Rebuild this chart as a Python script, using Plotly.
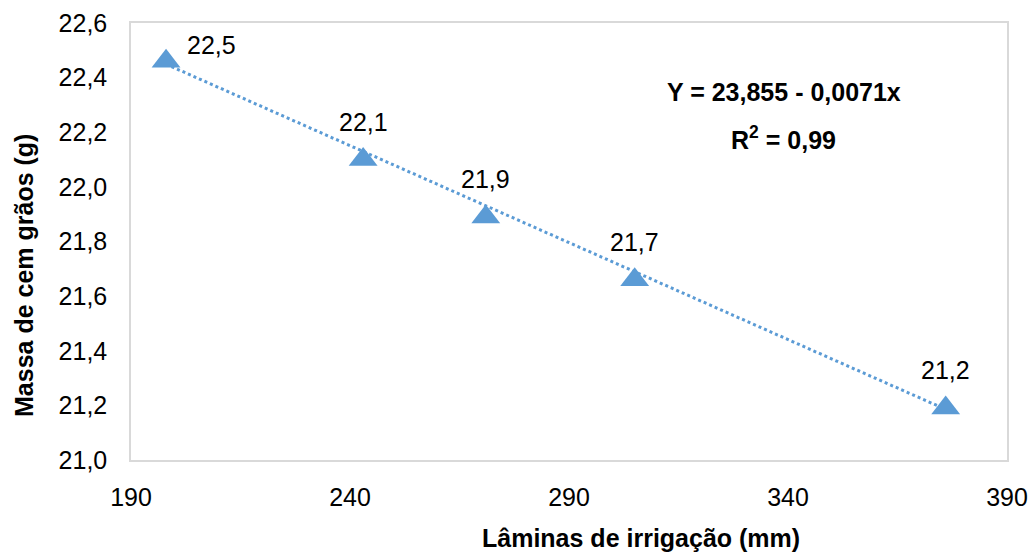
import plotly.graph_objects as go

# Irrigation depth (mm) and hundred-grain mass (g)
laminas = [198, 243, 271, 305, 376]
massa = [22.46, 22.10, 21.89, 21.66, 21.19]

# Fitted linear model: Y = a + b*x
intercepto = 23.855
inclinacao = -0.0071
r2 = 0.99

x_ticks = [190, 240, 290, 340, 390]
y_ticks = [21.0, 21.2, 21.4, 21.6, 21.8, 22.0, 22.2, 22.4, 22.6]

azul = "#5b9bd5"
fonte = "Liberation Sans, Arial, sans-serif"

W, H = 1033, 554
ml, mr, mt, mb = 131, 26, 23, 94
pw, ph = W - ml - mr, H - mt - mb


def px_to_paper(px, py):
    return (px - ml) / pw, 1 - (py - mt) / ph


fig = go.Figure()

# Trend line over the observed range
x_tend = [min(laminas), max(laminas)]
y_tend = [intercepto + inclinacao * v for v in x_tend]
fig.add_trace(go.Scatter(
    x=x_tend, y=y_tend, mode="lines",
    line=dict(color=azul, width=3, dash="dot"),
    hoverinfo="skip", showlegend=False,
))

fig.add_trace(go.Scatter(
    x=laminas, y=massa, mode="markers",
    marker=dict(symbol="triangle-up", size=25, color=azul),
    showlegend=False,
))

# Value labels above each point
for i, (xv, yv) in enumerate(zip(laminas, massa)):
    fig.add_annotation(
        x=xv, y=yv, text=f"{yv:.1f}".replace(".", ","),
        showarrow=False, xshift=45 if i == 0 else 0, yshift=38 if i else 16,
        xanchor="center", yanchor="middle",
        font=dict(family=fonte, size=25, color="#000000"),
    )

eq_txt = f"Y = {intercepto:.3f} - {abs(inclinacao):.4f}x".replace(".", ",")
r2_txt = f"R<sup>2</sup> = {r2:.2f}".replace(".", ",")
for txt, (px, py) in [(eq_txt, (784, 92)), (r2_txt, (783, 138))]:
    ax, ay = px_to_paper(px, py)
    fig.add_annotation(
        x=ax, y=ay, xref="paper", yref="paper", text=f"<b>{txt}</b>",
        showarrow=False, xanchor="center", yanchor="middle",
        font=dict(family=fonte, size=25, color="#000000"),
    )

# Axis titles
tx, ty = px_to_paper(641, 538)
fig.add_annotation(
    x=tx, y=ty, xref="paper", yref="paper",
    text="<b>Lâminas de irrigação (mm)</b>", showarrow=False,
    xanchor="center", yanchor="middle",
    font=dict(family=fonte, size=25, color="#000000"),
)
tx, ty = px_to_paper(24, 276)
fig.add_annotation(
    x=tx, y=ty, xref="paper", yref="paper",
    text="<b>Massa de cem grãos (g)</b>", showarrow=False, textangle=-90,
    xanchor="center", yanchor="middle",
    font=dict(family=fonte, size=25, color="#000000"),
)

fig.update_layout(
    width=W, height=H,
    margin=dict(l=ml, r=mr, t=mt, b=mb, autoexpand=False),
    paper_bgcolor="white", plot_bgcolor="white",
    separators=",.",
    font=dict(family=fonte, size=25, color="#000000"),
    xaxis=dict(
        range=[190, 390], tickvals=x_ticks, showgrid=False, zeroline=False,
        showline=True, mirror=True, linecolor="#d9d9d9", linewidth=1.5,
        ticks="", ticklabelstandoff=14, automargin=False,
        tickfont=dict(family=fonte, size=25),
    ),
    yaxis=dict(
        range=[21.0, 22.6], tickvals=y_ticks, tickformat=".1f",
        showgrid=False, zeroline=False,
        showline=True, mirror=True, linecolor="#d9d9d9", linewidth=1.5,
        ticks="", ticklabelstandoff=17, automargin=False,
        tickfont=dict(family=fonte, size=25),
    ),
)

fig.write_html("out.html")
